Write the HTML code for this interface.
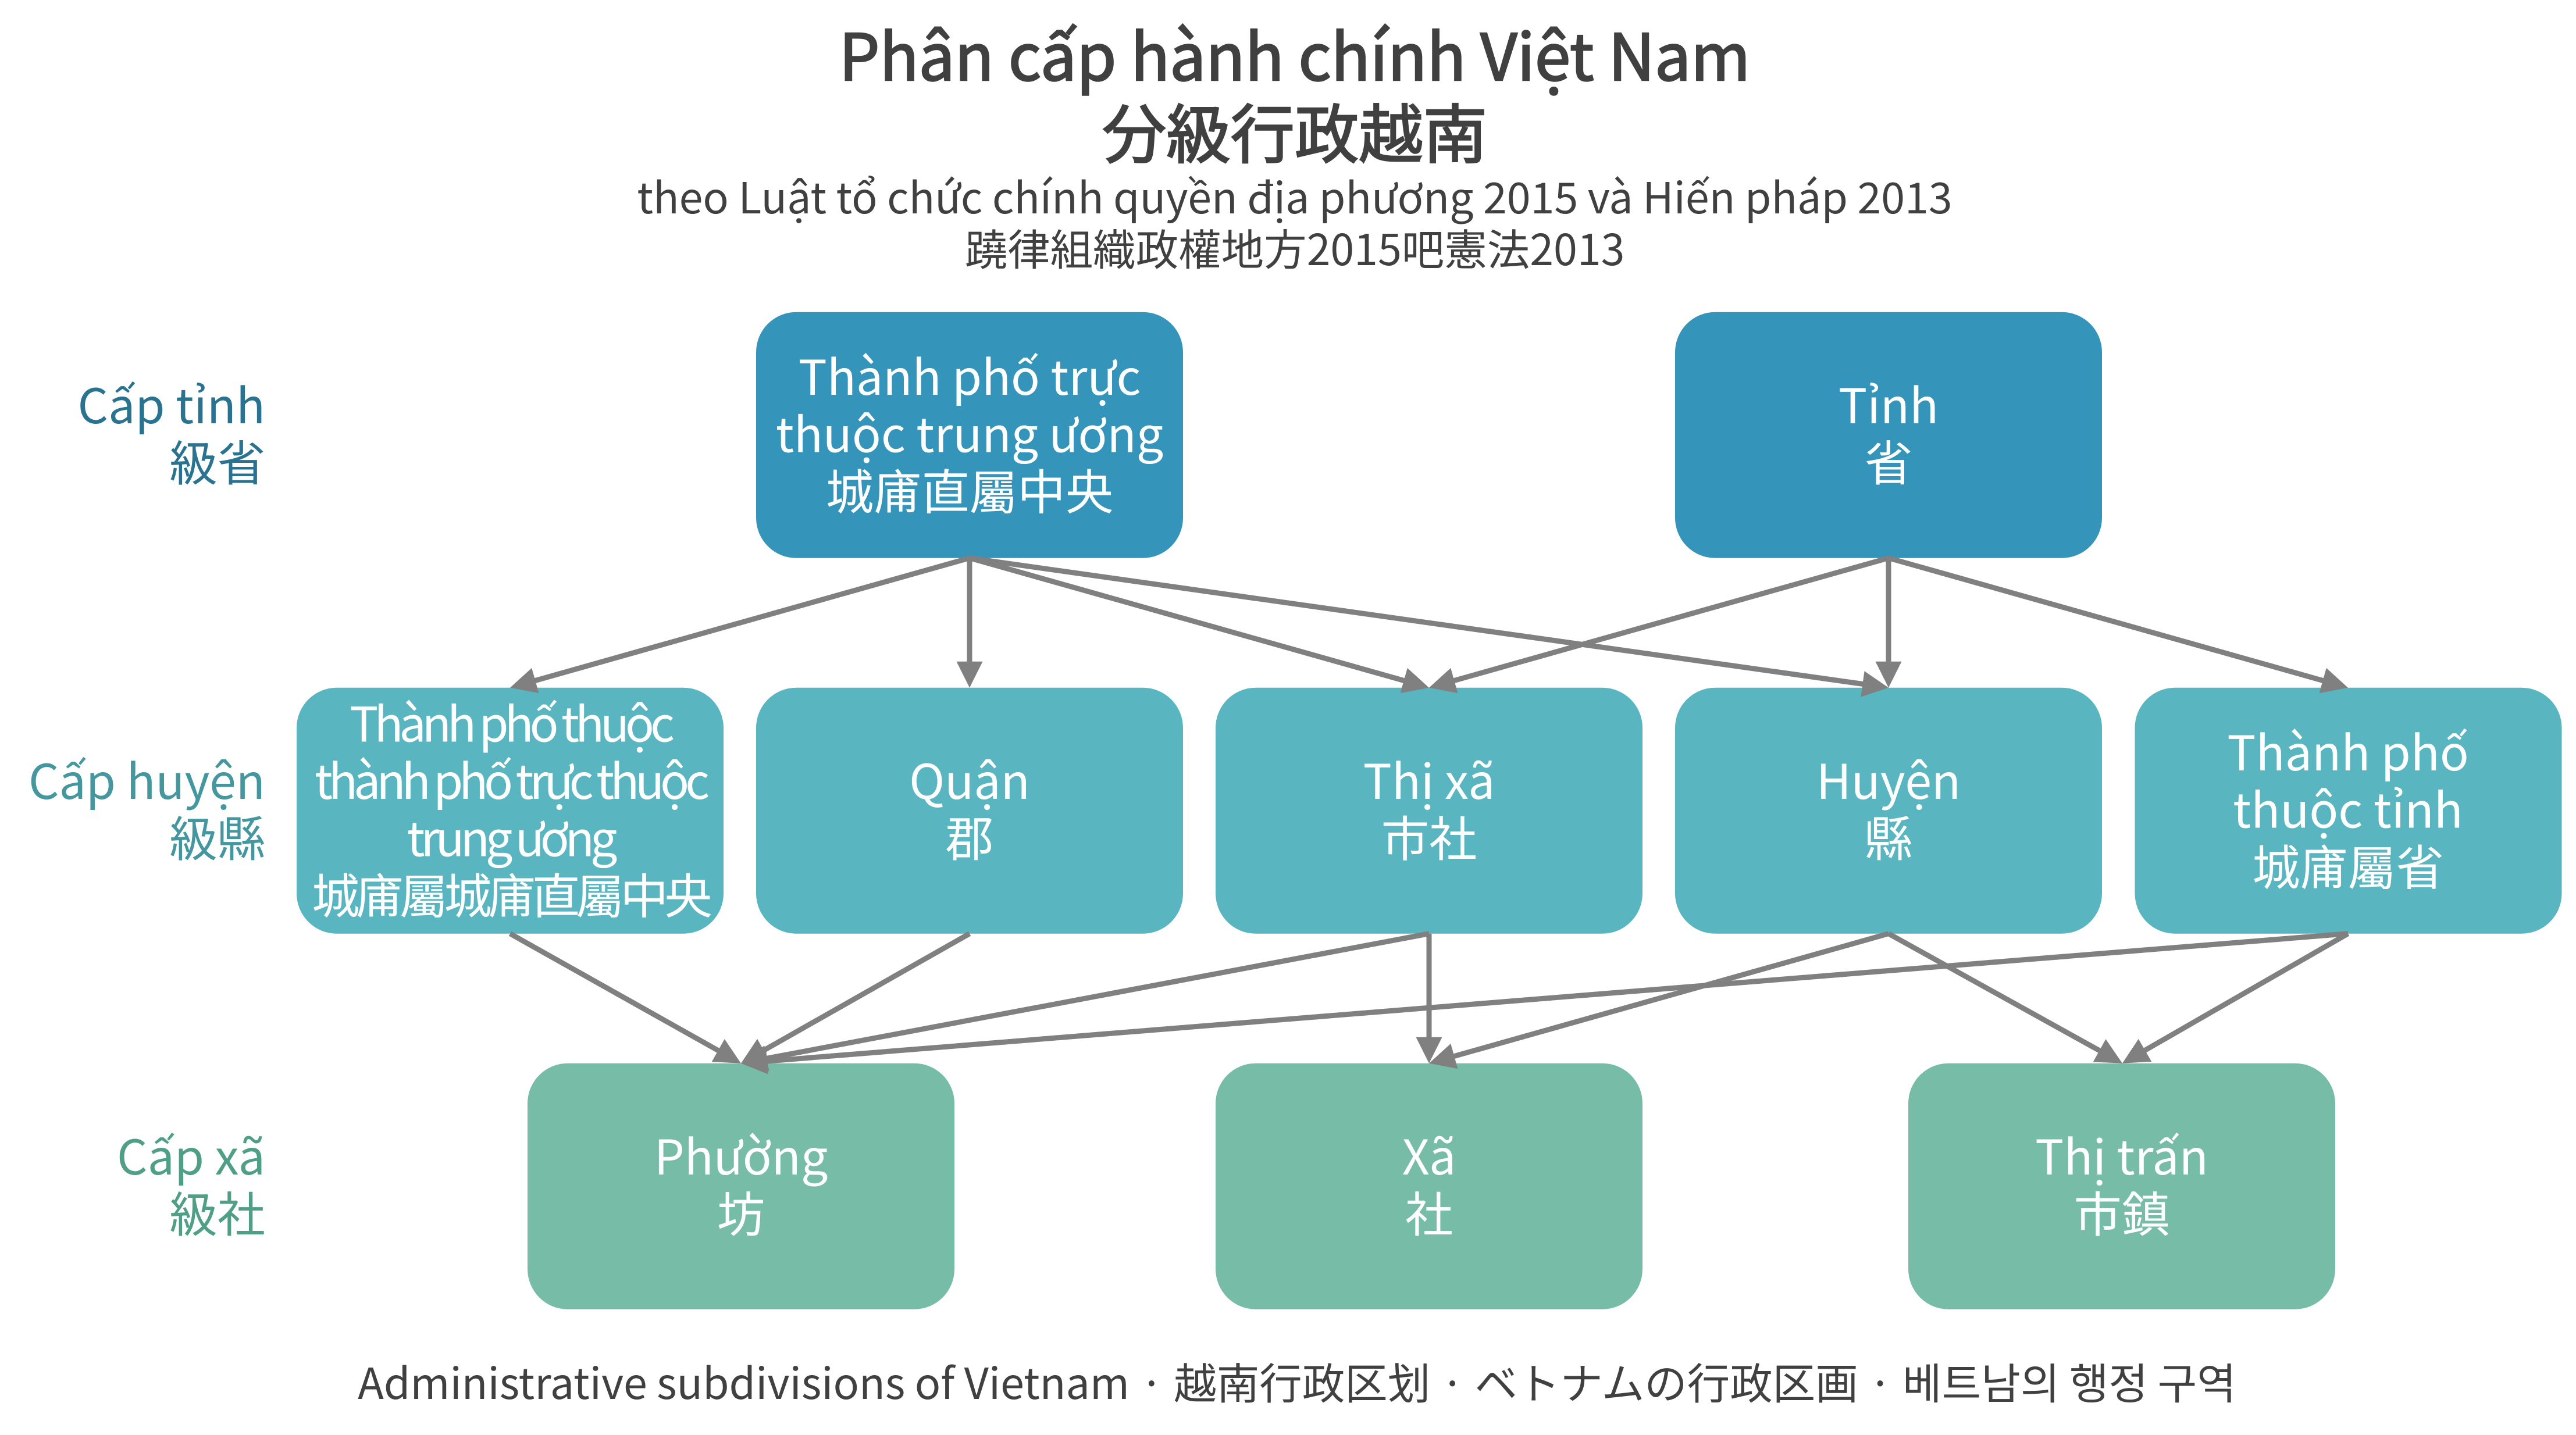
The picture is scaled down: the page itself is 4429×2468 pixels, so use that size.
<!DOCTYPE html>
<html><head><meta charset="utf-8"><style>
html,body{margin:0;padding:0;background:#fff}
svg{display:block}
text{font-family:"Noto Sans CJK JP","Liberation Sans",sans-serif}
.t{fill:#404040;text-anchor:middle}
.b{stroke:#404040;stroke-width:2.5px}
.n{fill:#fff;font-size:82.4px;text-anchor:middle}
.l{font-size:82.4px;text-anchor:end}
.c{letter-spacing:-7px}
.d{letter-spacing:-6.6px}
.a line{stroke:#808080;stroke-width:9;marker-end:url(#h)}
</style></head><body>
<svg width="4429" height="2468" viewBox="0 0 4429 2468" xmlns="http://www.w3.org/2000/svg">
<defs><marker id="h" markerUnits="userSpaceOnUse" markerWidth="45" markerHeight="45" refX="15" refY="22.5" orient="auto" overflow="visible"><path d="M0 0L45 22.5L0 45z" fill="#808080"/></marker></defs>
<rect width="4429" height="2468" fill="#fff"/>

<text class="t b" x="2226" y="138" font-size="110.4">Phân cấp hành chính Việt Nam</text>
<text class="t b" x="2226" y="271" font-size="110.4">分級行政越南</text>
<text class="t" x="2226" y="367" font-size="73.5">theo Luật tổ chức chính quyền địa phương 2015 và Hiến pháp 2013</text>
<text class="t" x="2226" y="456" font-size="73.5">蹺律組織政權地方2015吧憲法2013</text>

<g fill="#3594ba">
<rect x="1300" y="536.7" width="734" height="423" rx="69"/>
<rect x="2880" y="536.7" width="734" height="423" rx="69"/>
</g>
<g fill="#59b5c0">
<rect x="510" y="1182.7" width="734" height="423" rx="69"/>
<rect x="1300" y="1182.7" width="734" height="423" rx="69"/>
<rect x="2090" y="1182.7" width="734" height="423" rx="69"/>
<rect x="2880" y="1182.7" width="734" height="423" rx="69"/>
<rect x="3670.5" y="1182.7" width="734" height="423" rx="69"/>
</g>
<g fill="#76bca6">
<rect x="907" y="1828.7" width="734" height="423" rx="69"/>
<rect x="2090" y="1828.7" width="734" height="423" rx="69"/>
<rect x="3281" y="1828.7" width="734" height="423" rx="69"/>
</g>

<g class="a">
<line x1="1667" y1="959.7" x2="905.9" y2="1174.55"/>
<line x1="1667" y1="959.7" x2="1667" y2="1152.7"/>
<line x1="1667" y1="959.7" x2="2428.1" y2="1174.55"/>
<line x1="1667" y1="959.7" x2="3217.3" y2="1178.5"/>
<line x1="3247" y1="959.7" x2="2485.9" y2="1174.55"/>
<line x1="3247" y1="959.7" x2="3247" y2="1152.7"/>
<line x1="3247" y1="959.7" x2="4008.1" y2="1174.55"/>
<line x1="877" y1="1605.7" x2="1247.8" y2="1814"/>
<line x1="1667" y1="1605.7" x2="1300.1" y2="1813.9"/>
<line x1="2457" y1="1605.7" x2="1303.5" y2="1823.1"/>
<line x1="2457" y1="1605.7" x2="2457" y2="1798.7"/>
<line x1="3247" y1="1605.7" x2="2485.9" y2="1820.55"/>
<line x1="3247" y1="1605.7" x2="3622.7" y2="1814.1"/>
<line x1="4037" y1="1605.7" x2="3675" y2="1813.8"/>
<line x1="4037" y1="1605.7" x2="1303.9" y2="1826.3"/>
</g>

<text class="n" x="1667" y="679">Thành phố trực</text>
<text class="n" x="1667" y="777.4">thuộc trung ương</text>
<text class="n" x="1667" y="875.8">城庯直屬中央</text>
<text class="n" x="3247" y="728">Tỉnh</text>
<text class="n" x="3247" y="826.4">省</text>

<text class="n c" x="877" y="1275.6">Thành phố thuộc</text>
<text class="n c" x="877" y="1374">thành phố trực thuộc</text>
<text class="n c" x="877" y="1472.4">trung ương</text>
<text class="n d" x="877" y="1570.8">城庯屬城庯直屬中央</text>
<text class="n" x="1667" y="1374">Quận</text>
<text class="n" x="1667" y="1472.4">郡</text>
<text class="n" x="2457" y="1374">Thị xã</text>
<text class="n" x="2457" y="1472.4">市社</text>
<text class="n" x="3247" y="1374">Huyện</text>
<text class="n" x="3247" y="1472.4">縣</text>
<text class="n" x="4037" y="1325">Thành phố</text>
<text class="n" x="4037" y="1423.4">thuộc tỉnh</text>
<text class="n" x="4037" y="1521.8">城庯屬省</text>

<text class="n" x="1274" y="2020">Phường</text>
<text class="n" x="1274" y="2118.4">坊</text>
<text class="n" x="2457" y="2020">Xã</text>
<text class="n" x="2457" y="2118.4">社</text>
<text class="n" x="3648" y="2020">Thị trấn</text>
<text class="n" x="3648" y="2118.4">市鎮</text>

<g class="l" fill="#2a7390"><text x="456" y="728">Cấp tỉnh</text><text x="456" y="826.4">級省</text></g>
<g class="l" fill="#44979f"><text x="456" y="1374">Cấp huyện</text><text x="456" y="1472.4">級縣</text></g>
<g class="l" fill="#4f9f87"><text x="456" y="2020">Cấp xã</text><text x="456" y="2118.4">級社</text></g>

<text class="t" x="2230" y="2406" font-size="73.5">Administrative subdivisions of Vietnam<tspan dx="17.5">·</tspan><tspan dx="17.5">越南行政区划</tspan><tspan dx="17.5">·</tspan><tspan dx="17.5">ベトナムの行政区画</tspan><tspan dx="17.5">·</tspan><tspan dx="17.5">베트남의 행정 구역</tspan></text>
</svg>
</body></html>
